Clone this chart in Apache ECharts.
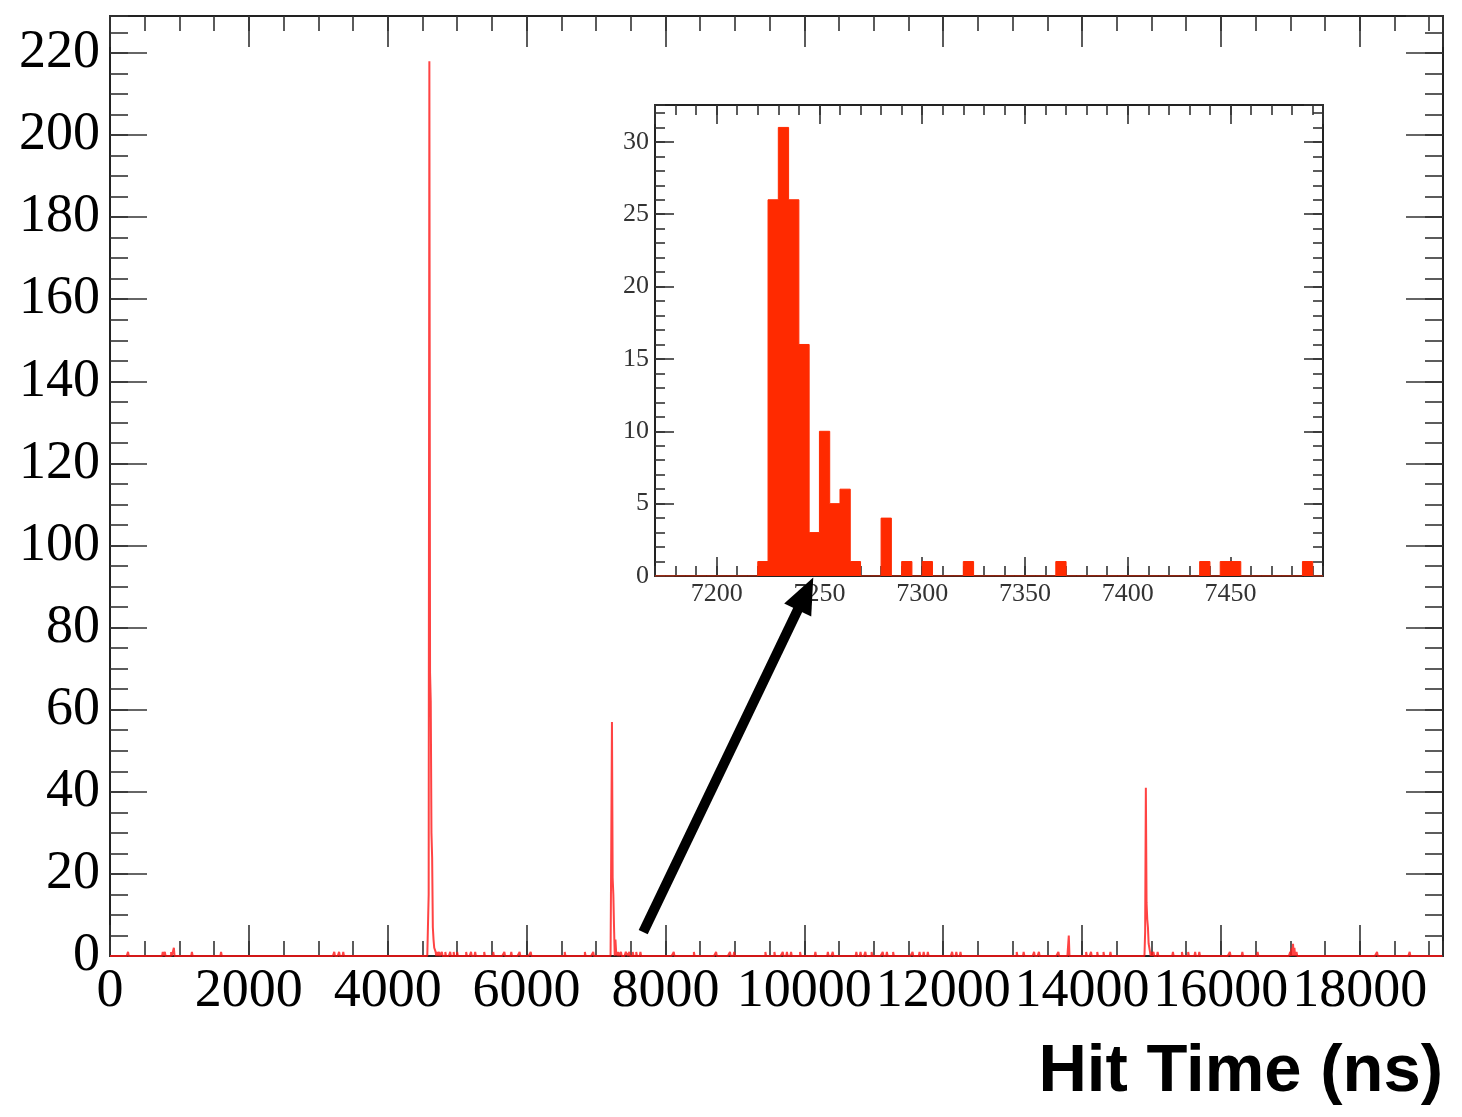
<!DOCTYPE html>
<html><head><meta charset="utf-8">
<script src="https://cdn.jsdelivr.net/npm/echarts@6/dist/echarts.min.js"></script>
<style>html,body{margin:0;padding:0;background:#fff}#c{width:1462px;height:1117px}</style>
</head><body><div id="c"></div>
<script>
// ---------------- data ----------------
// Main histogram: 10 ns bins over [0, 19200]; only non-empty bins listed (lower edge, entries)
const mainRange = [0, 19200];
const mainBinWidth = 10;
const mainBinLo = [
  260, 760, 790, 880, 920, 1180, 1600, 3230, 3300, 3360,
  4590, 4600, 4610, 4620, 4630, 4640, 4650, 4660, 4670, 4680, 4690, 4710, 4740, 4780, 4830, 4900, 4950, 5000,
  5130, 5200, 5260, 5390, 5520, 5680, 5780, 5900, 6060, 6550, 6840, 6960,
  7220, 7230, 7240, 7250, 7260, 7280, 7290, 7300, 7320, 7360, 7430, 7440, 7450, 7480, 7530, 7580, 7640,
  8120, 8410, 8730, 8930, 8990, 9440, 9570, 9690, 9750, 9810, 9940,
  10160, 10340, 10410, 10750, 10810, 10880, 10970, 11130, 11190, 11280, 11560, 11660, 11720, 11780,
  12130, 12190, 12250, 13060, 13160, 13310, 13380, 13660, 13810, 14060, 14130, 14220, 14310, 14410,
  14910, 14920, 14930, 14940, 14950, 14960, 14970, 14980, 15000, 15030, 15090,
  15310, 15440, 15530, 15630, 15690, 16130, 16310, 16530, 17000, 17020, 17040, 17060, 17090, 18250, 18720
];
const mainCounts = [
  1, 1, 1, 1, 2, 1, 1, 1, 1, 1,
  15, 218, 69, 62, 30, 24, 7, 4, 2, 2, 1, 1, 1, 1, 1, 1, 1, 1,
  1, 1, 1, 1, 1, 1, 1, 1, 1, 1, 1, 1,
  27, 57, 19, 15, 7, 4, 1, 1, 1, 1, 1, 1, 1, 1, 1, 1, 1,
  1, 1, 1, 1, 1, 1, 1, 1, 1, 1, 1,
  1, 1, 1, 1, 1, 1, 1, 1, 1, 1, 1, 1, 1, 1,
  1, 1, 1, 1, 1, 1, 1, 1, 5, 1, 1, 1, 1, 1,
  6, 41, 13, 9, 7, 3, 3, 1, 1, 1, 1,
  1, 1, 1, 1, 1, 1, 1, 1, 1, 2, 3, 2, 1, 1, 1
];
const mainYMax = 229;

// Inset histogram: 5 ns bins over [7170, 7495]
const insetRange = [7170, 7495];
const insetBinWidth = 5;
const insetBinLo  = [7220, 7225, 7230, 7235, 7240, 7245, 7250, 7255, 7260, 7265, 7280, 7290, 7300, 7320, 7365, 7435, 7445, 7450, 7485];
const insetCounts = [1,    26,   31,   26,   16,   3,    10,   5,    6,    1,    4,    1,    1,    1,    1,    1,    1,    1,    1];
const insetYMax = 32.55;

const xTitle = 'Hit Time (ns)';
// arrow annotation: from a point of the main plot to a point of the inset
const arrowFromMain = [7680, 5.8];
const arrowToInset = [7247, -0.1];

// ---------------- helpers ----------------
function stepData(lo, counts, range, w) {
  const n = Math.round((range[1] - range[0]) / w);
  const arr = new Array(n).fill(0);
  lo.forEach((x, i) => {
    const k = Math.round((x - range[0]) / w);
    if (k >= 0 && k < n) arr[k] += counts[i];
  });
  const pts = [];
  for (let k = 0; k < n; k++) pts.push([range[0] + k * w, arr[k]]);
  pts.push([range[1], arr[n - 1]]);
  return pts;
}

const serif = '"Liberation Serif","Times New Roman",serif';
function ax(o) {
  const a = {
    type: 'value', gridIndex: o.grid, position: o.pos, min: o.min, max: o.max,
    axisLine: {show: !!o.line, onZero: false, lineStyle: {color: '#222', width: 2}},
    axisTick: {show: true, inside: true, length: o.len, lineStyle: {color: '#333', width: 1.6}},
    minorTick: {show: false},
    splitLine: {show: false},
    axisLabel: o.label ? Object.assign({show: true, showMinLabel: o.showMin !== false, showMaxLabel: false,
                                        fontFamily: serif, formatter: v => String(v)}, o.label) : {show: false},
    silent: true
  };
  if (o.interval !== undefined) a.interval = o.interval;
  return a;
}

const mainLX = {fontSize: 54, color: '#000', margin: 9};
const mainLY = {fontSize: 54, color: '#000', margin: 10};
const insLX = {fontSize: 26, color: '#333', margin: 5};
const insLY = {fontSize: 26, color: '#333', margin: 6};

const xAxes = [
  ax({grid: 0, pos: 'bottom', min: mainRange[0], max: mainRange[1], interval: 2000, len: 31, line: true, label: mainLX}),
  ax({grid: 0, pos: 'bottom', min: mainRange[0], max: mainRange[1], interval: 500, len: 15}),
  ax({grid: 0, pos: 'top', min: mainRange[0], max: mainRange[1], interval: 2000, len: 31, line: true}),
  ax({grid: 0, pos: 'top', min: mainRange[0], max: mainRange[1], interval: 500, len: 15}),
  ax({grid: 1, pos: 'bottom', min: insetRange[0], max: insetRange[1], len: 19, line: true, label: insLX, showMin: false}),
  ax({grid: 1, pos: 'bottom', min: insetRange[0], max: insetRange[1], interval: 10, len: 10}),
  ax({grid: 1, pos: 'top', min: insetRange[0], max: insetRange[1], len: 19, line: true}),
  ax({grid: 1, pos: 'top', min: insetRange[0], max: insetRange[1], interval: 10, len: 10})
];
const yAxes = [
  ax({grid: 0, pos: 'left', min: 0, max: mainYMax, interval: 20, len: 37, line: true, label: mainLY}),
  ax({grid: 0, pos: 'left', min: 0, max: mainYMax, interval: 5, len: 18}),
  ax({grid: 0, pos: 'right', min: 0, max: mainYMax, interval: 20, len: 37, line: true}),
  ax({grid: 0, pos: 'right', min: 0, max: mainYMax, interval: 5, len: 18}),
  ax({grid: 1, pos: 'left', min: 0, max: insetYMax, interval: 5, len: 19, line: true, label: insLY}),
  ax({grid: 1, pos: 'left', min: 0, max: insetYMax, interval: 1, len: 10}),
  ax({grid: 1, pos: 'right', min: 0, max: insetYMax, interval: 5, len: 19, line: true}),
  ax({grid: 1, pos: 'right', min: 0, max: insetYMax, interval: 1, len: 10})
];

const titleGraphic = {id: 'xtitle', type: 'text', x: 1443, y: 1073,
  style: {text: xTitle, align: 'right', textAlign: 'right', verticalAlign: 'middle', textVerticalAlign: 'middle',
          font: 'bold 67px "Liberation Sans", Arial, sans-serif', fill: '#000'}};

const chart = echarts.init(document.getElementById('c'), null, {renderer: 'canvas'});
chart.setOption({
  animation: false,
  backgroundColor: '#fff',
  grid: [
    {left: 110, top: 16, width: 1333, height: 940, containLabel: false},
    {left: 655, top: 105, width: 668, height: 471, containLabel: false, show: true, backgroundColor: '#fff', borderWidth: 0}
  ],
  xAxis: xAxes,
  yAxis: yAxes,
  series: [
    {
      type: 'line', xAxisIndex: 0, yAxisIndex: 0, data: stepData(mainBinLo, mainCounts, mainRange, mainBinWidth),
      step: 'end', symbol: 'none', showSymbol: false, silent: true, z: 3,
      lineStyle: {color: 'rgba(255,20,20,0.8)', width: 2}
    },
    {
      type: 'line', xAxisIndex: 4, yAxisIndex: 4, data: stepData(insetBinLo, insetCounts, insetRange, insetBinWidth),
      step: 'end', symbol: 'none', showSymbol: false, silent: true, z: 3,
      lineStyle: {color: '#ff2a00', width: 1},
      areaStyle: {color: '#ff2a00', opacity: 1}
    }
  ],
  graphic: [titleGraphic]
});

// arrow from main plot to inset
const p0 = chart.convertToPixel({seriesIndex: 0}, arrowFromMain);
const p1 = chart.convertToPixel({seriesIndex: 1}, arrowToInset);
const dx = p1[0] - p0[0], dy = p1[1] - p0[1];
const L = Math.hypot(dx, dy), ux = dx / L, uy = dy / L, px = -uy, py = ux;
const headLen = 36, headHalf = 15;
const bx = p1[0] - ux * headLen, by = p1[1] - uy * headLen;
chart.setOption({
  graphic: [
    titleGraphic,
    {id: 'shaft', type: 'line', z: 100,
     shape: {x1: p0[0], y1: p0[1], x2: bx + ux * 4, y2: by + uy * 4},
     style: {stroke: '#000', lineWidth: 10, lineCap: 'butt'}},
    {id: 'head', type: 'polygon', z: 100,
     shape: {points: [[p1[0], p1[1]], [bx + px * headHalf, by + py * headHalf], [bx - px * headHalf, by - py * headHalf]]},
     style: {fill: '#000'}}
  ]
});
</script>
</body></html>
